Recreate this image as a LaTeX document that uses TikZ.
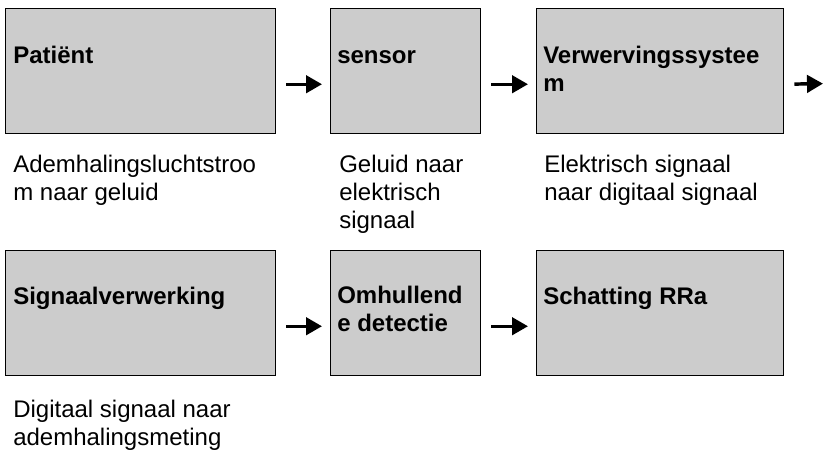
\documentclass[tikz,border=0pt]{standalone}
\usepackage{fontspec}
\setmainfont{Liberation Sans}
\usetikzlibrary{arrows.meta}
\definecolor{boxgray}{RGB}{204,204,204}
\tikzset{
    block/.style={rectangle, draw=black, line width=1.1pt, fill=boxgray, anchor=north west, minimum height=93.75pt, inner sep=0pt},
    title/.style={anchor=base west, align=left, inner sep=0pt, font=\bfseries\fontsize{18}{21}\selectfont},
    caption/.style={anchor=base west, align=left, inner sep=0pt, font=\fontsize{18}{20.8}\selectfont},
    flow/.style={-{Triangle[length=12pt,width=13pt]}, line width=2.6pt, shorten <=7.5pt, shorten >=6pt},
}

\begin{document}
\begin{tikzpicture}[x=0.75pt, y=-0.75pt]
\useasboundingbox (0,0) rectangle (828,451);
% first row
\node[block, minimum width=202.5pt] (1) at (5,8) {};
\node[block, minimum width=112.5pt] (2) at (330,8) {};
\node[block, minimum width=185.25pt] (3) at (536,8) {};
% second row
\node[block, minimum width=202.5pt] (4) at (5,250) {};
\node[block, minimum width=112.5pt] (5) at (330,250) {};
\node[block, minimum width=185.25pt] (6) at (536,250) {};
\coordinate (uit) at (831,70.5);
% titles (base = last line)
\node[title] (t1) at (13,63) {Patiënt};
\node[title] (t2) at (337,63) {sensor};
\node[title] (t3) at (543,91) {Verwervingssystee\\m};
\node[title] (t4) at (13,304) {Signaalverwerking};
\node[title] (t5) at (337,331) {Omhullend\\e detectie};
\node[title] (t6) at (543,304) {Schatting RRa};
% captions
\node[caption] (c1) at (13,200) {Ademhalingsluchtstroo\\m naar geluid};
\node[caption] (c2) at (339,228) {Geluid naar\\elektrisch\\signaal};
\node[caption] (c3) at (544,200) {Elektrisch signaal\\naar digitaal signaal};
\node[caption] (c4) at (13,445) {Digitaal signaal naar\\ademhalingsmeting};
% arrows
\draw[flow] ([yshift=-9.75pt]1.east) -- ([yshift=-9.75pt]2.west);
\draw[flow] ([yshift=-9.75pt]2.east) -- ([yshift=-9.75pt]3.west);
\draw[flow] ([yshift=-9.75pt]3.east) -- ([yshift=-9.75pt]uit);
\draw[flow] ([yshift=-9.75pt]4.east) -- ([yshift=-9.75pt]5.west);
\draw[flow] ([yshift=-9.75pt]5.east) -- ([yshift=-9.75pt]6.west);
\end{tikzpicture}
\end{document}
